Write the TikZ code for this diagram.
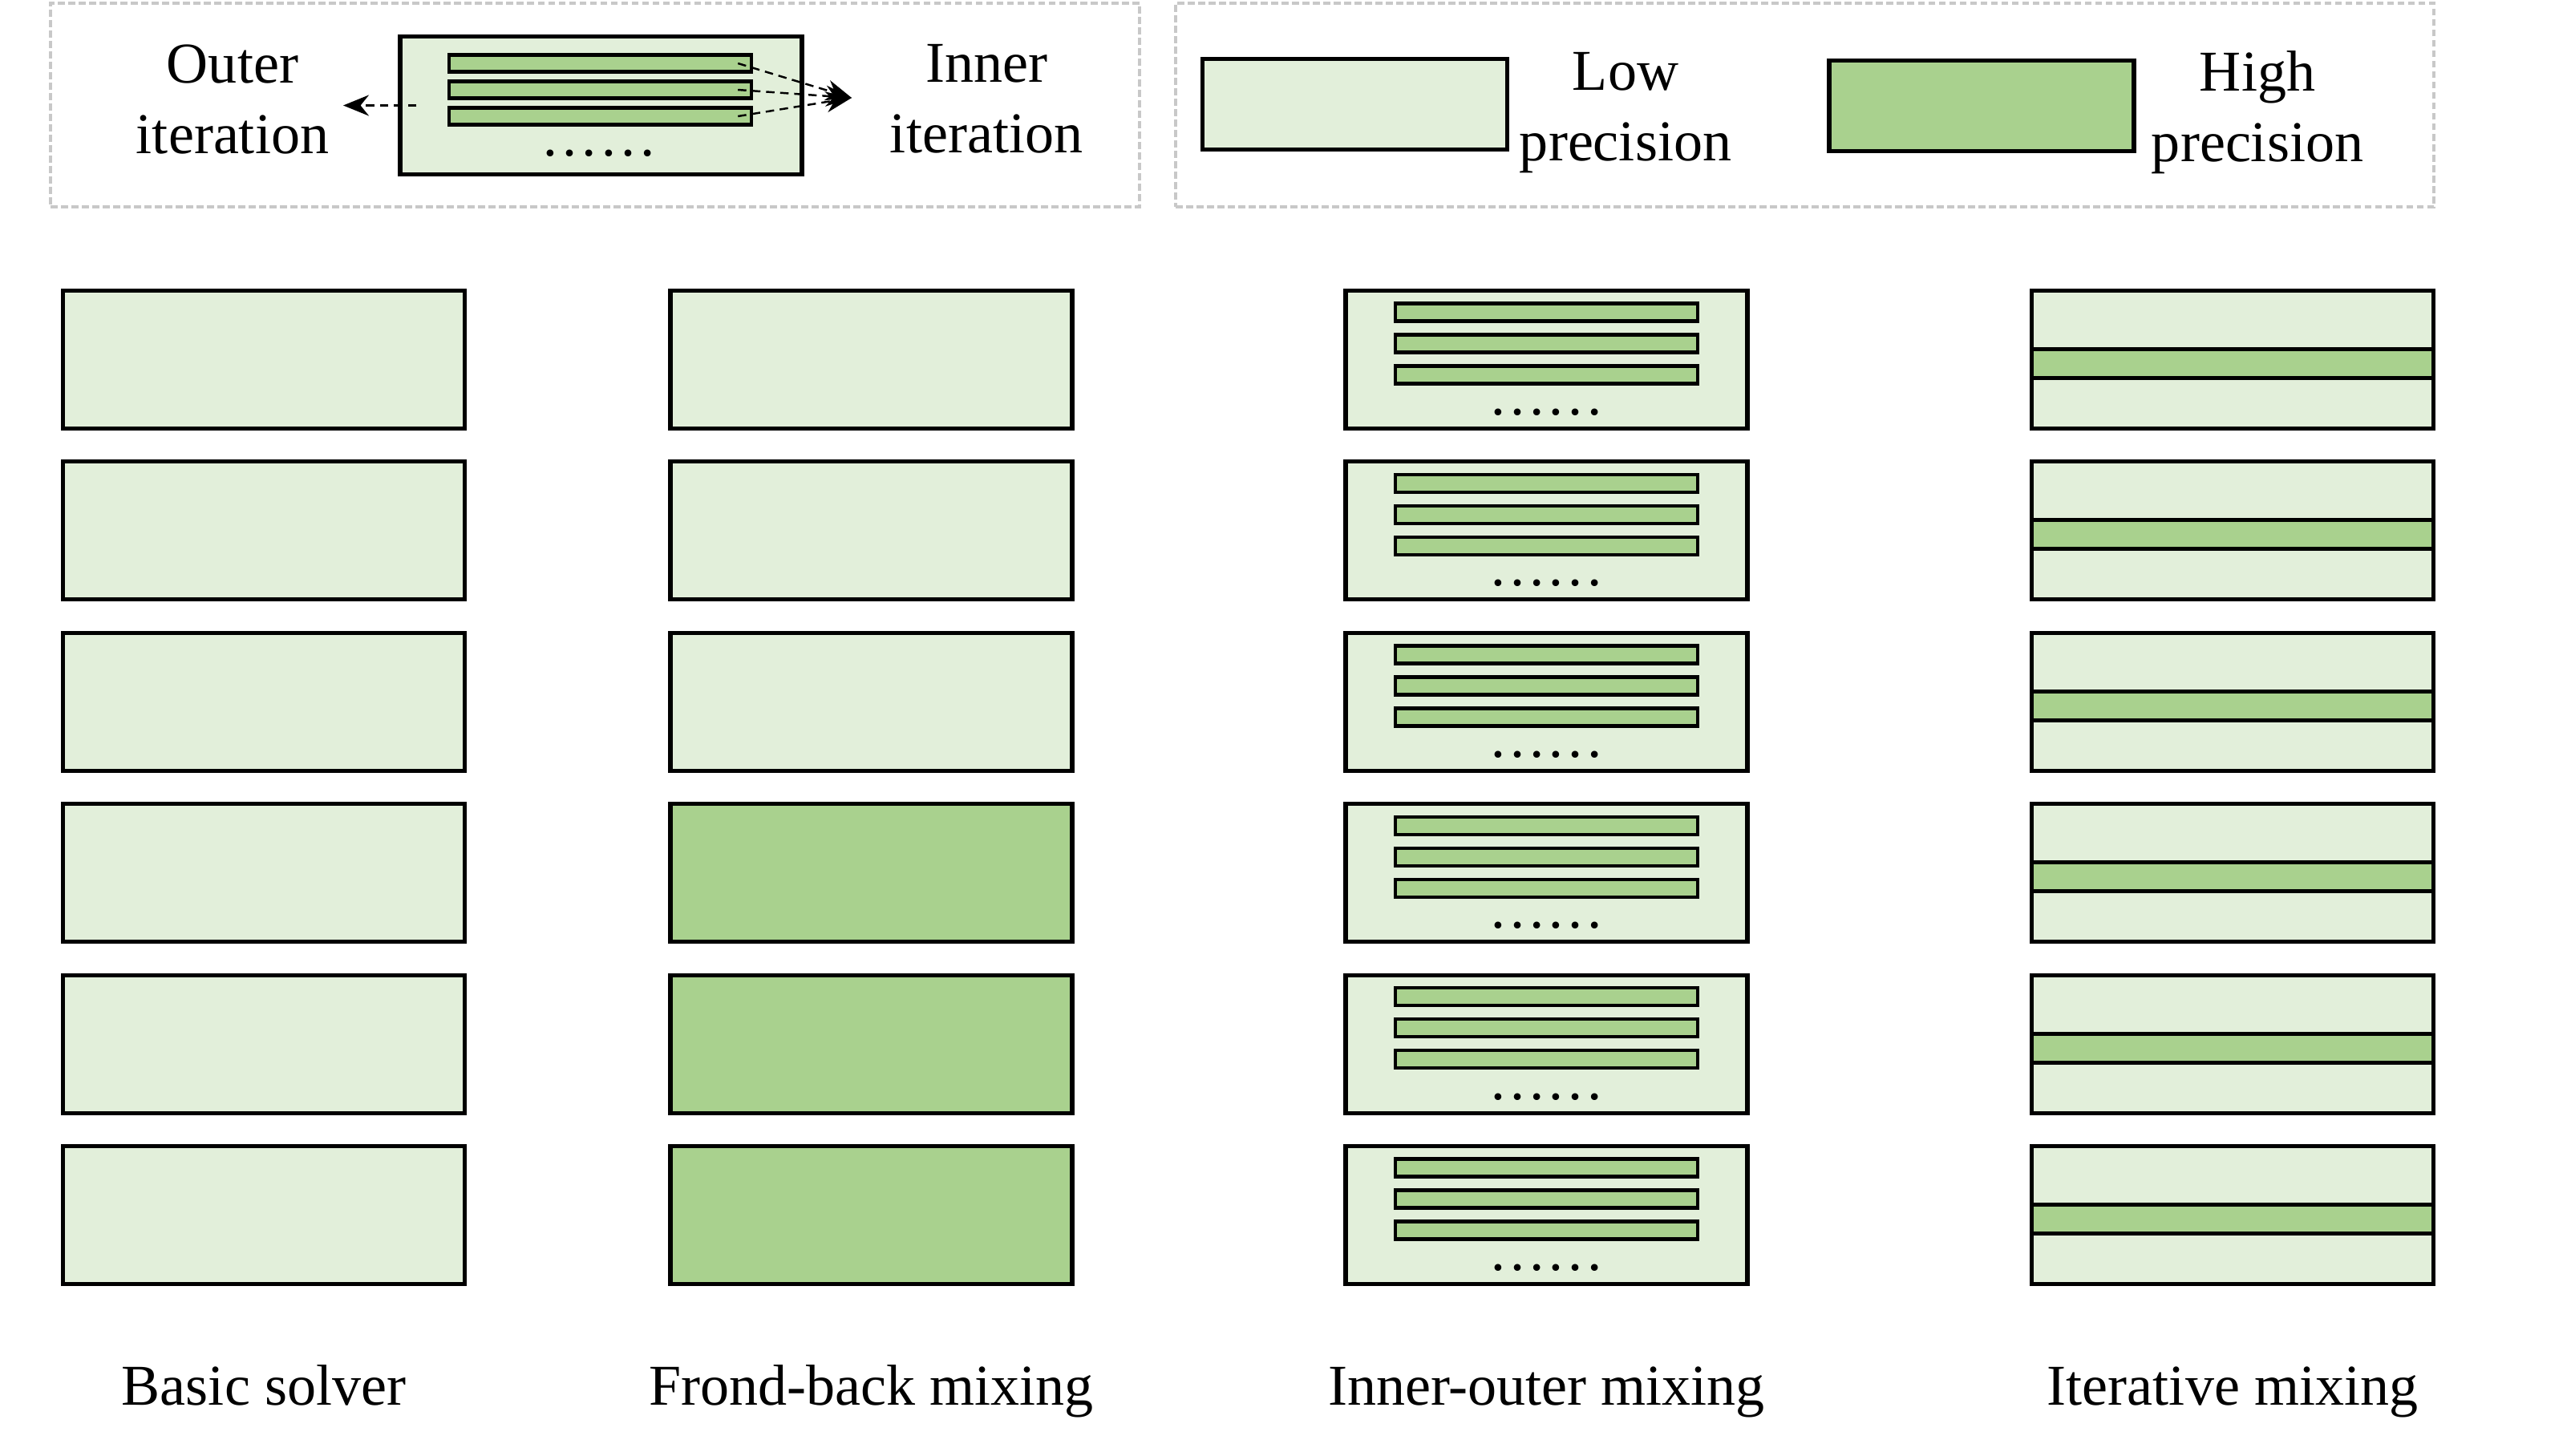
\documentclass[tikz,border=0pt]{standalone}
\usepackage{fontspec}
\setmainfont{Liberation Serif}
\usetikzlibrary{positioning,arrows.meta,calc}
\definecolor{ink}{RGB}{0,0,0}
\definecolor{lowgreen}{RGB}{226,239,218}
\definecolor{highgreen}{RGB}{169,209,142}
\definecolor{framegray}{RGB}{200,200,200}

\begin{document}
\begin{tikzpicture}[font=\fontsize{20.5}{25}\selectfont,
  solver/.style={draw=ink, line width=1.45pt, fill=lowgreen, minimum width=5.01cm, minimum height=1.72cm, inner sep=0pt},
  hisolver/.style={solver, fill=highgreen},
  substep/.style={draw=ink, line width=1.25pt, fill=highgreen, minimum width=3.77cm, minimum height=0.22cm, inner sep=0pt},
  band/.style={draw=ink, line width=1.45pt, fill=highgreen, minimum width=5.01cm, minimum height=0.36cm, inner sep=0pt},
  keybox/.style={draw=ink, line width=1.45pt, minimum width=3.80cm, minimum height=1.13cm, inner sep=0pt},
  frame/.style={draw=framegray, line width=0.9pt, dash pattern=on 2.5pt off 1.2pt, minimum height=2.54cm, inner sep=0pt},
  note/.style={anchor=north, align=center, inner sep=0pt},
  caption/.style={anchor=base, inner sep=0pt},
  dots/.style={anchor=base, inner sep=0pt},
  flow/.style={-{Stealth[length=3.2mm, width=2.6mm]}, densely dashed, line width=0.7pt, draw=ink}]
  \useasboundingbox (0,0) rectangle (32.11,-18.15);
  % legend frames
  \node[frame, minimum width=13.58cm] (keyloop) at (7.42,-1.31) {};
  \node[frame, minimum width=15.69cm] (keyprec) at (22.505,-1.31) {};
  % iteration legend
  \node[solver] (demo) at (7.495,-1.315) {};
  \node[substep, minimum height=0.21cm] (demo1) at (7.485,-0.79) {};
  \node[substep, minimum height=0.21cm] (demo2) at (7.485,-1.12) {};
  \node[substep, minimum height=0.21cm] (demo3) at (7.485,-1.45) {};
  \node[dots] (demodots) at (7.47,-1.94) {……};
  \coordinate (outertip) at (4.28,-1.315);
  \coordinate (innertip) at (10.62,-1.22);
  \draw[flow] ([xshift=0.23cm]demo.west) -- (outertip);
  \foreach \s in {1,2,3}
    \draw[flow] ([xshift=-0.19cm]demo\s.east) -- (innertip);
  \node[note] (outer) at (2.90,-0.55) {Outer\\iteration};
  \node[note] (inner) at (12.30,-0.55) {Inner\\iteration};
  % precision legend
  \node[keybox, fill=lowgreen] (lowkey) at (16.895,-1.30) {};
  \node[note] (lowtext) at (20.27,-0.65) {Low\\precision};
  \node[keybox, fill=highgreen] (highkey) at (24.71,-1.32) {};
  \node[note] (hightext) at (28.15,-0.63) {High\\precision};
  % four solvers
  \foreach \r/\kind in {1/solver,2/solver,3/solver,4/hisolver,5/hisolver,6/hisolver} {
    \pgfmathsetmacro\yy{-4.485-2.134*(\r-1)}
    \node[solver] (basic\r) at (3.29,\yy) {};
    \node[\kind] (frondback\r) at (10.865,\yy) {};
    \node[solver] (inout\r) at (19.285,\yy) {};
    \node[substep] (inout\r-1) at ([yshift=0.59cm]inout\r.center) {};
    \node[substep] (inout\r-2) at ([yshift=0.20cm]inout\r.center) {};
    \node[substep] (inout\r-3) at ([yshift=-0.19cm]inout\r.center) {};
    \node[dots] (inoutdots\r) at ([yshift=-0.69cm]inout\r.center) {……};
    \node[solver] (iter\r) at (27.84,\yy) {};
    \node[band] (iterband\r) at ([yshift=-0.05cm]iter\r.center) {};
  }
  \node[caption] (basiclabel) at (3.29,-17.52) {Basic solver};
  \node[caption] (frondlabel) at (10.865,-17.52) {Frond-back mixing};
  \node[caption] (inoutlabel) at (19.285,-17.52) {Inner-outer mixing};
  \node[caption] (iterlabel) at (27.84,-17.52) {Iterative mixing};
\end{tikzpicture}
\end{document}
